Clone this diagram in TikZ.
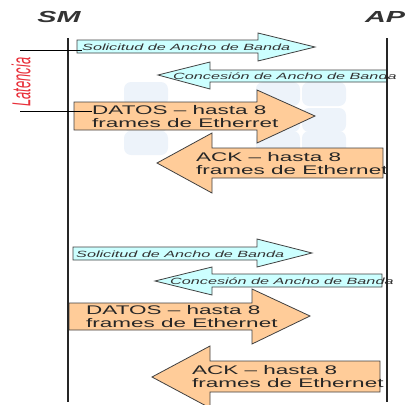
\documentclass[tikz,border=0pt]{standalone}
\usepackage{fontspec}
\newfontfamily\anchasans[FakeStretch=1.8,Ligatures=TeX]{Liberation Sans}
\newfontfamily\estrechasans[FakeStretch=0.5,Ligatures=TeX]{Liberation Sans}
\definecolor{celeste}{HTML}{CCFFFF}
\definecolor{naranja}{HTML}{FFCC99}
\definecolor{marca}{HTML}{EDF3FA}
\definecolor{rojolat}{HTML}{E8303A}
\tikzset{
  pedido/.style={draw=black!75, fill=celeste, line width=0.8pt},
  trama/.style={draw=black!75, fill=naranja, line width=0.8pt},
  chico/.style={anchor=west, inner sep=0pt, text=black!80, font=\anchasans\itshape\fontsize{9}{10}\selectfont},
  grande/.style={anchor=west, inner sep=0pt, align=left, text=black!85, font=\anchasans\fontsize{12.5}{13}\selectfont},
}
\begin{document}
\begin{tikzpicture}[x=1pt,y=-1pt]
\useasboundingbox (0,0) rectangle (405,405);
% marca de agua
\foreach \cx in {146,278,324}
  \foreach \cy in {94,120,143}
    \fill [marca, rounded corners=7pt] (\cx-22,\cy-12) rectangle (\cx+22,\cy+12);

% estaciones
\node (sm) [font=\anchasans\bfseries\itshape\fontsize{16}{16}\selectfont, text=black!80] at (59,17) {SM};
\node (ap) [anchor=west, inner sep=0pt, font=\anchasans\bfseries\itshape\fontsize{16}{16}\selectfont, text=black!80] at (365,17) {AP};

% primer ciclo
\draw [pedido] (77,40) -- (258,40) -- (258,33) -- (315,47) -- (258,61) -- (258,53) -- (77,53) -- cycle;
\node (sol1) [chico] at (82,47) {Solicitud de Ancho de Banda};
\draw [pedido] (387,70) -- (210,70) -- (210,62) -- (158,75) -- (210,89) -- (210,82) -- (387,82) -- cycle;
\node (con1) [chico] at (173,76) {Concesión de Ancho de Banda};
\draw [trama] (74,102) -- (257,102) -- (257,90) -- (315,116) -- (257,143) -- (257,130) -- (74,130) -- cycle;
\node (datos1) [grande] at (92,117) {DATOS -- hasta 8\\frames de Etherret};
\draw [trama] (383,148) -- (212,148) -- (212,133) -- (157,163) -- (212,193) -- (212,178) -- (383,178) -- cycle;
\node (ack1) [grande] at (196,164) {ACK -- hasta 8\\frames de Ethernet};

% segundo ciclo
\draw [pedido] (73,247) -- (257,247) -- (257,239) -- (312,253) -- (257,267) -- (257,260) -- (73,260) -- cycle;
\node (sol2) [chico] at (76,254) {Solicitud de Ancho de Banda};
\draw [pedido] (382,274) -- (212,274) -- (212,267) -- (155,281) -- (212,295) -- (212,287) -- (382,287) -- cycle;
\node (con2) [chico] at (170,281) {Concesión de Ancho de Banda};
\draw [trama] (69,303) -- (252,303) -- (252,289) -- (310,316) -- (252,344) -- (252,330) -- (69,330) -- cycle;
\node (datos2) [grande] at (86,317) {DATOS -- hasta 8\\frames de Ethernet};
\draw [trama] (380,361) -- (210,361) -- (210,346) -- (152,377) -- (210,408) -- (210,392) -- (380,392) -- cycle;
\node (ack2) [grande] at (192,377) {ACK -- hasta 8\\frames de Ethernet};

% lineas de tiempo
\coordinate (smtop) at (68,38);
\coordinate (smbot) at (68,402);
\coordinate (aptop) at (387,38);
\coordinate (apbot) at (387,402);
\draw [line width=1.4pt, black!85] (smtop) -- (smbot);
\draw [line width=1.4pt, black!85] (aptop) -- (apbot);

% latencia
\node (lat) [rotate=90, text=rojolat, font=\estrechasans\itshape\fontsize{26}{26}\selectfont] at (21,82) {Latencia};
\coordinate (lata) at (20,50);
\coordinate (latb) at (82,50);
\coordinate (latc) at (20,111);
\coordinate (latd) at (92,111);
\draw [line width=0.9pt] (lata) -- (latb);
\draw [line width=0.9pt] (latc) -- (latd);
\end{tikzpicture}
\end{document}
